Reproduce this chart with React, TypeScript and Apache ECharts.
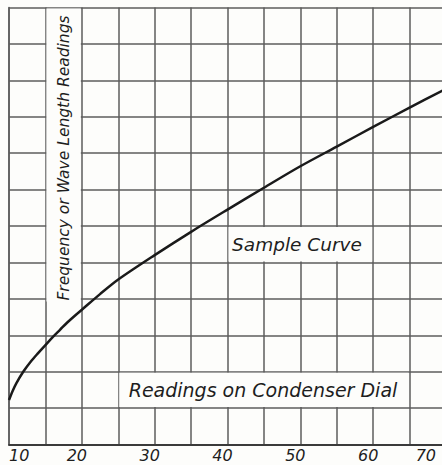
import React, { useEffect, useRef } from "react";
import * as echarts from "echarts";

// Condenser dial readings (x) and frequency / wave length readings (y, in grid divisions)
const dialReadings = [10, 10.5, 11, 12, 13, 14, 15, 16, 17, 18, 19, 20, 22.5, 25, 30, 35, 40, 45, 50, 55, 60, 65, 70];
const curveValues = [1.22, 1.47, 1.68, 2.01, 2.28, 2.51, 2.73, 2.95, 3.15, 3.35, 3.53, 3.7, 4.13, 4.53, 5.2, 5.84, 6.45, 7.05, 7.64, 8.18, 8.72, 9.25, 9.77];
const xTickLabels = ["10", "20", "30", "40", "50", "60", "70"];

const yLabel = "Frequency or Wave Length Readings";
const curveLabel = "Sample Curve";
const xLabel = "Readings on Condenser Dial";

const X_MIN = 10;
const X_MAX = 70;
const Y_MIN = 0;
const Y_MAX = 12;

const BG = "#fdfdfb";
const LINE = "#5c5c5c";
const INK = "#1e1e1e";
const FONT = "'DejaVu Sans', sans-serif";

const G_LEFT = 9;
const G_TOP = 7.5;
const G_W = 437;
const G_H = 437;
const CW = 442;
const CH = 465;

const px = (x: number) => G_LEFT + ((x - X_MIN) / (X_MAX - X_MIN)) * G_W;
const py = (y: number) => G_TOP + ((Y_MAX - y) / (Y_MAX - Y_MIN)) * G_H;

function box(x0: number, x1: number, y0: number, y1: number) {
  const a = px(x0) + 1;
  const b = px(x1) - 1;
  const t = py(y1) + 1;
  const u = py(y0) - 1;
  return {
    type: "rect",
    z: 5,
    shape: { x: a, y: t, width: b - a, height: u - t },
    style: { fill: BG },
  };
}

export default function App() {
  const ref = useRef<HTMLDivElement>(null);
  useEffect(() => {
    document.body.style.margin = "0";
    const chart = echarts.init(ref.current!, null, { renderer: "svg" });
    const data = dialReadings.map((x, i) => [x, curveValues[i]]);
    chart.setOption({
      animation: false,
      backgroundColor: BG,
      grid: {
        left: G_LEFT,
        top: G_TOP,
        width: G_W,
        height: G_H,
        containLabel: false,
        outerBoundsMode: "none",
      },
      xAxis: {
        type: "value",
        min: X_MIN,
        max: X_MAX,
        interval: 5,
        axisLine: { show: true, lineStyle: { color: "#3a3a3a", width: 2 } },
        axisTick: { show: false },
        splitLine: { show: true, lineStyle: { color: LINE, width: 1.5 } },
        axisLabel: {
          formatter: (v: number) => (xTickLabels.includes(String(v)) ? String(v) : ""),
          color: INK,
          fontFamily: FONT,
          fontStyle: "italic",
          fontSize: 16,
          lineHeight: 16,
          margin: 3,
          padding: [0, 10, 0, 0],
          alignMinLabel: "left",
          alignMaxLabel: "right",
          showMinLabel: true,
          showMaxLabel: true,
        },
      },
      yAxis: {
        type: "value",
        min: Y_MIN,
        max: Y_MAX,
        interval: 1,
        axisLine: { show: true, lineStyle: { color: LINE, width: 1.5 } },
        axisTick: { show: false },
        axisLabel: { show: false },
        splitLine: { show: true, lineStyle: { color: LINE, width: 1.5 } },
      },
      graphic: [
        box(15, 20, 3.9, 12),
        box(40, 60, 5, 6),
        box(25, 65, 1, 2),
        {
          type: "text",
          z: 6,
          x: (px(15) + px(20)) / 2,
          y: 158,
          rotation: Math.PI / 2,
          style: {
            text: yLabel,
            fill: INK,
            font: `italic 15.5px ${FONT}`,
            align: "center",
            verticalAlign: "middle",
          },
        },
        {
          type: "text",
          z: 6,
          x: 297,
          y: (py(5) + py(6)) / 2,
          style: {
            text: curveLabel,
            fill: INK,
            font: `italic 18.5px ${FONT}`,
            align: "center",
            verticalAlign: "middle",
          },
        },
        {
          type: "text",
          z: 6,
          x: 263,
          y: (py(1) + py(2)) / 2,
          style: {
            text: xLabel,
            fill: INK,
            font: `italic 19px ${FONT}`,
            align: "center",
            verticalAlign: "middle",
          },
        },
      ],
      series: [
        {
          type: "line",
          data,
          smooth: 0.3,
          showSymbol: false,
          z: 10,
          lineStyle: { color: "#1a1a1a", width: 2.5 },
        },
      ],
    });
    return () => chart.dispose();
  }, []);
  return <div ref={ref} style={{ position: "fixed", left: 0, top: 0, width: CW, height: CH }} />;
}
